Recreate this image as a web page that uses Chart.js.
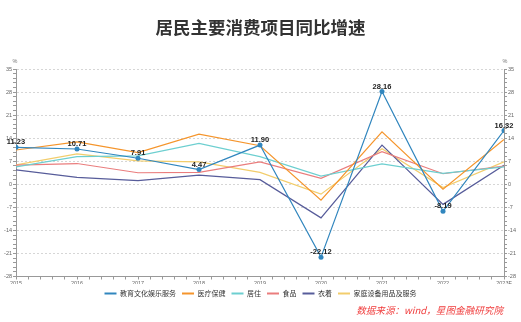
<!DOCTYPE html>
<html lang="zh">
<head>
<meta charset="UTF-8">
<title>居民主要消费项目同比增速</title>
<script src="https://cdn.jsdelivr.net/npm/chart.js"></script>
<style>
  html, body { margin: 0; padding: 0; background: #fff; }
  .wrap { position: relative; width: 521px; height: 322px; }
  .source {
    position: absolute; right: 18px; top: 303px;
    font: italic 9.6px "Noto Sans CJK SC", sans-serif;
    color: #f03c3c; white-space: nowrap;
  }
</style>
</head>
<body>
<div class="wrap">
  <canvas id="chart" width="521" height="322"></canvas>
  <div class="source">数据来源：wind，星图金融研究院</div>
</div>
<script>
// 数据
const years = ['2015', '2016', '2017', '2018', '2019', '2020', '2021', '2022', '2023F'];
const eduValues = [11.23, 10.71, 7.91, 4.47, 11.90, -22.12, 28.16, -8.19, 16.32];
const healthValues = [10.4, 12.9, 9.6, 15.2, 11.7, -4.8, 15.9, -1.5, 13.6];
const housingValues = [5.3, 8.4, 8.6, 12.4, 8.4, 2.5, 6.2, 3.3, 5.3];
const foodValues = [5.8, 6.3, 3.5, 3.6, 6.8, 1.8, 9.9, 3.2, 5.5];
const clothingValues = [4.4, 2.1, 1.1, 2.8, 1.4, -10.2, 11.9, -6.1, 5.8];
const householdValues = [5.9, 9.2, 7.1, 6.8, 3.6, -3.0, 10.8, -1.0, 6.8];
const yMin = -28, yMax = 35, yMajor = 7;

const toPoints = arr => arr.map((v, i) => ({ x: i, y: v }));
const nearMultiple = (v, step) => Math.abs(v / step - Math.round(v / step)) < 1e-6;

function series(label, values, color, withPoints) {
  return {
    label: label,
    data: toPoints(values),
    borderColor: color,
    backgroundColor: color,
    borderWidth: 1.2,
    tension: 0,
    pointRadius: withPoints ? 2.5 : 0,
    pointHoverRadius: withPoints ? 2.5 : 0,
    pointBorderWidth: 0,
    pointBackgroundColor: color
  };
}

// 数据标签和单位
const extras = {
  id: 'extras',
  afterDatasetsDraw(chart) {
    const ctx = chart.ctx;
    const area = chart.chartArea;
    ctx.save();
    ctx.font = 'bold 7.5px "Liberation Sans", Arial, sans-serif';
    ctx.fillStyle = '#222';
    ctx.textAlign = 'center';
    ctx.textBaseline = 'middle';
    chart.getDatasetMeta(0).data.forEach((pt, i) => {
      ctx.fillText(eduValues[i].toFixed(2), pt.x, pt.y - 5);
    });
    ctx.font = '5.5px "Liberation Sans", Arial, sans-serif';
    ctx.fillStyle = '#777';
    ctx.fillText('%', area.left - 1, area.top - 8);
    ctx.fillText('%', area.right + 1, area.top - 8);
    ctx.restore();
  }
};

const tickFont = { family: '"Liberation Sans", Arial, sans-serif', size: 5.5 };

function yAxis(position, drawGrid, width) {
  return {
    type: 'linear',
    position: position,
    min: yMin,
    max: yMax,
    afterFit: scale => { scale.width = width; },
    ticks: {
      stepSize: 1.4,
      autoSkip: false,
      padding: 1,
      font: tickFont,
      color: '#666',
      callback: v => nearMultiple(v, yMajor) ? String(Math.round(v)) : ''
    },
    grid: {
      drawOnChartArea: drawGrid,
      tickLength: 3,
      tickColor: '#999',
      color: ctx => (ctx.tick && nearMultiple(ctx.tick.value, yMajor) && ctx.tick.value > yMin + 0.1) ? '#d6d6d6' : 'rgba(0,0,0,0)'
    },
    border: { color: '#999', width: 1, dash: [2, 2] }
  };
}

new Chart(document.getElementById('chart'), {
  type: 'line',
  data: {
    datasets: [
      series('教育文化娱乐服务', eduValues, '#3186be', true),
      series('医疗保健', healthValues, '#f5952c', false),
      series('居住', housingValues, '#6dcfd0', false),
      series('食品', foodValues, '#ea7d7d', false),
      series('衣着', clothingValues, '#575c9a', false),
      series('家庭设备用品及服务', householdValues, '#f2cd6c', false)
    ]
  },
  options: {
    responsive: false,
    animation: false,
    layout: { padding: { left: 0, right: 0, top: 0, bottom: 15 } },
    scales: {
      x: {
        type: 'linear',
        min: 0,
        max: years.length - 1,
        afterFit: scale => { scale.height = 7.5; },
        ticks: {
          stepSize: 0.2,
          autoSkip: false,
          maxRotation: 0,
          padding: 1,
          font: tickFont,
          color: '#666',
          callback: v => nearMultiple(v, 1) ? years[Math.round(v)] : ''
        },
        grid: { drawOnChartArea: false, tickLength: 3, tickColor: '#999' },
        border: { color: '#999', width: 1 }
      },
      y: yAxis('left', true, 16),
      y2: yAxis('right', false, 17)
    },
    plugins: {
      title: {
        display: true,
        text: '居民主要消费项目同比增速',
        color: '#333',
        font: { family: '"Noto Sans CJK SC", sans-serif', size: 17.5, weight: 'bold' },
        padding: { top: 17, bottom: 31 }
      },
      legend: {
        position: 'bottom',
        labels: {
          usePointStyle: true,
          pointStyle: 'line',
          pointStyleWidth: 12,
          boxHeight: 7,
          padding: 6,
          color: '#333',
          font: { family: '"Noto Sans CJK SC", sans-serif', size: 7 },
          generateLabels: chart => Chart.defaults.plugins.legend.labels.generateLabels(chart)
            .map(item => Object.assign(item, { lineWidth: 2 }))
        }
      },
      tooltip: { enabled: false }
    }
  },
  plugins: [extras]
});
</script>
</body>
</html>
